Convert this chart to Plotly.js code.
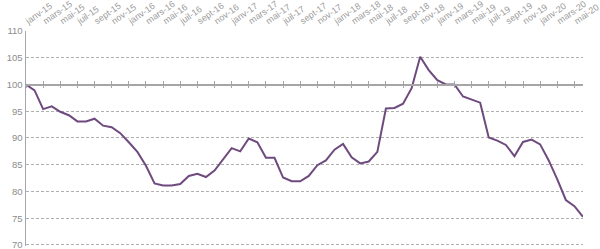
<!DOCTYPE html>
<html>
<head>
<meta charset="utf-8">
<script src="https://cdn.plot.ly/plotly-3.0.1.min.js"></script>
<style>html,body{margin:0;padding:0;background:#fff;}#chart{width:600px;height:249px;}</style>
</head>
<body>
<div id="chart"></div>
<script>
const monthNames = ['janv','févr','mars','avr','mai','juin','juil','août','sept','oct','nov','déc'];
const years = ['15','16','17','18','19','20'];
const months = [];
for (const y of years) for (const m of monthNames) months.push(m + '-' + y);
const categories = months.slice(0, 66); // janv-15 .. juin-20

const values = [
  100.0, 98.9, 95.4, 95.9, 94.9, 94.25, 93.1, 93.1, 93.6, 92.3, 92.0, 90.9,
  89.2, 87.4, 84.8, 81.5, 81.1, 81.1, 81.4, 82.9, 83.3, 82.7, 83.9, 86.1,
  88.1, 87.5, 89.9, 89.2, 86.3, 86.3, 82.6, 81.9, 81.9, 82.9, 84.9, 85.8,
  87.8, 88.9, 86.4, 85.25, 85.6, 87.4, 95.5, 95.6, 96.4, 99.3, 105.2, 102.7,
  100.8, 100.0, 100.0, 97.75, 97.1, 96.6, 90.1, 89.5, 88.7, 86.6, 89.25, 89.7,
  88.8, 85.8, 82.25, 78.4, 77.25, 75.25
];

const tickCats = categories.filter((c, i) => i % 2 === 0);
const yTicks = [70, 75, 80, 85, 90, 95, 100, 105, 110];
const yMin = 69.8, yMax = 110, axisAt = 100;

const gray = '#a6a6a6';
const traces = [
  {x: categories, y: values, xaxis: 'x2', yaxis: 'y', mode: 'lines', opacity: 0, hoverinfo: 'skip', showlegend: false},
  {x: categories, y: values, xaxis: 'x3', yaxis: 'y', mode: 'lines', opacity: 0, hoverinfo: 'skip', showlegend: false},
  {x: categories, y: values, xaxis: 'x', yaxis: 'y', mode: 'lines',
   line: {color: '#6e4a7e', width: 2}, showlegend: false}
];

const pos = (axisAt - yMin) / (yMax - yMin);
const baseX = {type: 'category', range: [0, categories.length - 1], showgrid: false, zeroline: false};
const layout = {
  width: 600, height: 249,
  margin: {l: 26, r: 17, t: 31, b: 3},
  paper_bgcolor: '#fff', plot_bgcolor: '#fff',
  font: {family: 'Liberation Sans, Arial, sans-serif', color: '#8c8c8c', size: 9},
  xaxis: Object.assign({}, baseX, {
    side: 'top', showline: false, ticks: '',
    tickmode: 'array', tickvals: tickCats, ticktext: tickCats,
    tickangle: -35, ticklabelstandoff: 3, tickfont: {size: 9, color: '#999999'}
  }),
  xaxis2: Object.assign({}, baseX, {
    overlaying: 'x', anchor: 'free', position: pos,
    showline: true, linecolor: gray, linewidth: 1.5,
    ticks: 'outside', ticklen: 2, tickcolor: gray, tickwidth: 1,
    tickmode: 'array', tickvals: tickCats, showticklabels: false
  }),
  xaxis3: Object.assign({}, baseX, {
    overlaying: 'x', anchor: 'free', position: pos,
    showline: false,
    ticks: 'inside', ticklen: 3, tickcolor: gray, tickwidth: 1,
    tickmode: 'array', tickvals: tickCats, showticklabels: false
  }),
  yaxis: {
    range: [yMin, yMax], tickmode: 'array', tickvals: yTicks,
    showgrid: true, gridcolor: '#b0b0b0', gridwidth: 1, griddash: '3px,2px',
    zeroline: false, showline: true, linecolor: gray, linewidth: 1.5,
    ticks: '', ticklabeloverflow: 'allow', tickfont: {size: 9.5, color: '#8c8c8c'}
  }
};

Plotly.newPlot('chart', traces, layout, {staticPlot: true, displayModeBar: false});
</script>
</body>
</html>
